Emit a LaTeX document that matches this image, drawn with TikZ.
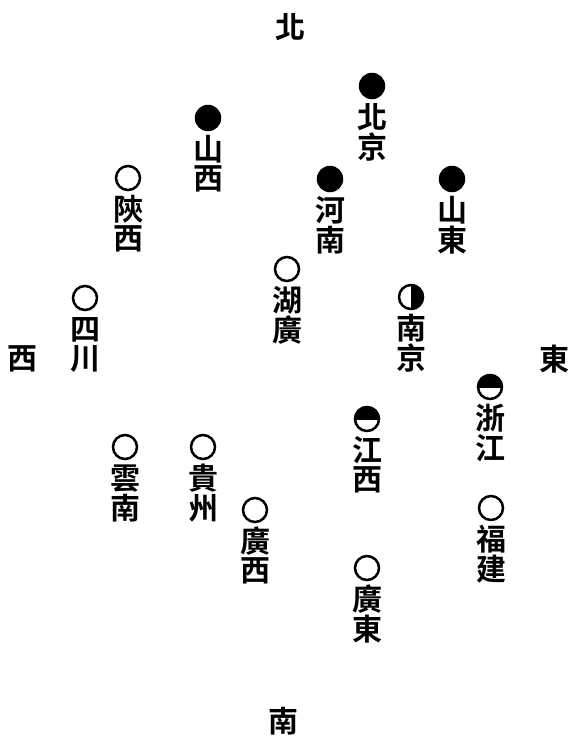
\documentclass[tikz,border=0pt]{standalone}
\usepackage{fontspec}
\newfontfamily\cjk{Noto Sans CJK TC}[BoldFont={* Bold}]
\tikzset{
  glyph/.style={inner sep=0pt, font=\cjk\bfseries\fontsize{30}{30}\selectfont},
  fullc/.style={circle, fill=black, minimum size=26.5pt, inner sep=0pt},
  openc/.style={circle, draw=black, line width=2.5pt, minimum size=24pt, inner sep=0pt},
}
% \prov{id}{x}{y}{char1}{char2}
\newcommand\provtext[5]{%
  \node[glyph] (#1a) at (#2,#3+31.5) {#4};
  \node[glyph] (#1b) at (#2,#3+61) {#5};
}
\newcommand\provfull[5]{%
  \node[fullc] (#1) at (#2,#3) {};
  \provtext{#1}{#2}{#3}{#4}{#5}
}
\newcommand\provopen[5]{%
  \node[openc] (#1) at (#2,#3) {};
  \provtext{#1}{#2}{#3}{#4}{#5}
}
\newcommand\provtop[5]{%
  \begin{scope}
    \clip (#2-15,#3-15) rectangle (#2+15,#3+0.5);
    \fill (#2,#3) circle[radius=13pt];
  \end{scope}
  \node[openc] (#1) at (#2,#3) {};
  \provtext{#1}{#2}{#3}{#4}{#5}
}
\newcommand\provright[5]{%
  \begin{scope}
    \clip (#2,#3-15) rectangle (#2+15,#3+15);
    \fill (#2,#3) circle[radius=13pt];
  \end{scope}
  \node[openc] (#1) at (#2,#3) {};
  \provtext{#1}{#2}{#3}{#4}{#5}
}
\begin{document}
\begin{tikzpicture}[x=1pt,y=-1pt]
\useasboundingbox[fill=white] (0,0) rectangle (573,740);
% compass labels
\node[glyph] (north) at (290,27) {北};
\node[glyph] (south) at (283,721) {南};
\node[glyph] (west) at (22,359) {西};
\node[glyph] (east) at (554,359) {東};
% provinces
\provfull{beijing}{372}{86}{北}{京}
\provfull{shanxi}{208}{118}{山}{西}
\provopen{shaanxi}{128}{178}{陝}{西}
\provfull{henan}{330}{179}{河}{南}
\provfull{shandong}{452}{179}{山}{東}
\provopen{huguang}{287}{269}{湖}{廣}
\provright{nanjing}{411}{297}{南}{京}
\provopen{sichuan}{85}{298}{四}{川}
\provtop{zhejiang}{490}{387}{浙}{江}
\provtop{jiangxi}{367}{419}{江}{西}
\provopen{yunnan}{125}{447}{雲}{南}
\provopen{guizhou}{203}{447}{貴}{州}
\provopen{guangxi}{255}{510}{廣}{西}
\provopen{fujian}{491}{508}{福}{建}
\provopen{guangdong}{367}{568}{廣}{東}
\end{tikzpicture}
\end{document}
